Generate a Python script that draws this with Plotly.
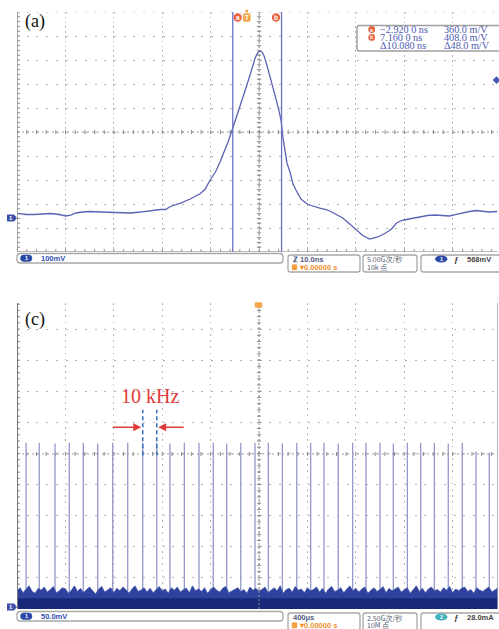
import plotly.graph_objects as go

W, H = 499, 629

# ---------------- panel (a) data ----------------
a_time_ns = [-47.3, -45.6, -44.0, -42.1, -40.5, -38.8, -37.4, -36.4, -35.3, -33.9,
             -32.3, -30.2, -28.1, -26.1, -24.0, -22.0, -19.9, -17.9, -16.8, -15.8,
             -13.7, -11.7, -9.6, -8.6, -7.6, -6.5, -5.5, -4.5, -3.9, -3.04,
             -2.21, -1.39, -0.57, 0.26, 1.08, 1.70, 2.21, 2.62, 3.14, 3.55,
             3.96, 4.37, 4.78, 5.40, 6.02, 6.53, 7.04, 7.46, 7.87, 8.28,
             8.9, 9.52, 10.13, 11.16, 12.6, 14.04, 15.07, 16.72, 18.36, 19.8,
             21.24, 22.68, 23.92, 25.36, 27.0, 28.65, 29.88, 30.9, 31.94, 32.97,
             34.41, 35.65, 37.3, 38.94, 40.59, 41.82, 43.06, 44.5, 45.94, 47.38,
             48.82, 50.05, 51.7]
a_volt_mV = [12.9, 7.9, 7.9, 10.8, 12.1, 7.9, 1.7, 5.8, 14.2, 18.3,
             20.4, 18.3, 16.3, 14.2, 14.2, 18.3, 24.6, 28.8, 28.8, 41.3,
             55.8, 72.5, 95.4, 114.2, 151.7, 185, 228.8, 276.7, 310, 360,
             410, 455.8, 510, 564, 618, 660, 681, 689, 685, 668,
             643, 614, 585, 539, 489, 448, 402, 327, 264, 222,
             185, 135, 110, 72.5, 49.6, 39.2, 35, 26.7, 10, -6.7,
             -31.7, -56.7, -79.6, -94.2, -85.8, -69.2, -52.5, -27.5, -17.1, -12.9,
             -6.7, -0.4, 3.75, 5.8, 3.75, 1.7, 7.9, 15.4, 20.4, 24.6,
             22.5, 18.3, 20.4]
a_cursor_ns = [-2.92, 7.16]
a_cursor_labels = ["a", "b"]
a_trigger_ns = 0.0
a_trigger_mV = 568.0
a_readout_col1 = ["\u22122.920 0 ns", "7.160 0 ns", "\u039410.080 ns"]
a_readout_col2 = ["360.0 m/V", "408.0 m/V", "\u039448.0 m/V"]

# ---------------- panel (c) data ----------------
c_pulse_us = [-1925, -1816, -1686, -1568, -1452, -1333, -1209, -1085, -961, -845,
              -736, -617, -496, -378, -267, -151, -33, 77, 193, 312,
              427, 537, 655, 774, 884, 1000, 1110, 1226, 1336, 1449,
              1564, 1680, 1793, 1903]
c_pulse_top_mV = [264, 264, 263, 264, 264, 263, 264, 264, 264, 264,
                  263, 264, 264, 264, 263, 264, 264, 264, 263, 264,
                  264, 264, 263, 264, 264, 264, 263, 264, 264, 264,
                  263, 264, 250, 248]
c_noise_us = list(range(-2000, 2001, 25))
c_noise_top_mV = [26, 31, 23, 29, 34, 25, 22, 30, 27, 32, 24, 28, 33, 23, 26, 31,
                  29, 22, 27, 34, 25, 30, 23, 28, 32, 26, 21, 29, 33, 24, 27, 31,
                  23, 30, 26, 32, 28, 22, 29, 34, 25, 27, 31, 24, 30, 23, 28, 33,
                  26, 29, 22, 31, 27, 32, 24, 28, 30, 23, 34, 26, 29, 25, 31, 22,
                  28, 32, 27, 24, 30, 33, 23, 26, 29, 31, 25, 28, 22, 32, 27, 30,
                  25, 29, 32, 23, 27, 31, 26, 34, 22, 28, 30, 24, 33, 27, 29, 23,
                  31, 26, 28, 32, 24, 30, 22, 29, 33, 25, 27, 31, 23, 28, 34, 26,
                  30, 24, 29, 32, 22, 27, 31, 25, 28, 33, 23, 30, 26, 29, 32, 24,
                  27, 31, 22, 28, 34, 25, 30, 23, 29, 32, 26, 28, 24, 31, 27, 33,
                  23, 29, 26, 30, 32, 25, 28, 22, 31, 27, 25, 29, 32, 24, 28, 31, 26]
c_marked = [8, 9]
c_label = "10 kHz"

# ---------------- geometry ----------------
L, R = 17, 498
A_T, A_B = 12, 252
C_T, C_B = 303, 609
A_X = [-47.48, 51.86]
A_Y = [-148.3, 851.7]
C_X = [-2000.0, 1975.0]
C_Y = [-3.2, 488.7]


def PX(x):
    return x / W


def PY(y):
    return 1 - y / H


def rrect(x0, y0, x1, y1, r, line='#a0a0a0', fill='white', width=1.2):
    rx, ry = r / W, r / H
    X0, X1, Y0, Y1 = PX(x0), PX(x1), PY(y0), PY(y1)
    path = (f"M{X0+rx},{Y0} L{X1-rx},{Y0} Q{X1},{Y0} {X1},{Y0-ry} "
            f"L{X1},{Y1+ry} Q{X1},{Y1} {X1-rx},{Y1} L{X0+rx},{Y1} "
            f"Q{X0},{Y1} {X0},{Y1+ry} L{X0},{Y0-ry} Q{X0},{Y0} {X0+rx},{Y0} Z")
    return dict(type='path', xref='paper', yref='paper', path=path,
                line=dict(color=line, width=width), fillcolor=fill, layer='above')


def circ(cx, cy, r, color):
    return dict(type='circle', xref='paper', yref='paper',
                x0=PX(cx - r), x1=PX(cx + r), y0=PY(cy + r), y1=PY(cy - r),
                line=dict(width=0), fillcolor=color, layer='above')


def txt(x, y, s, size=8, color='#333', family='Liberation Sans', anchor='left', bold=False):
    if bold:
        s = '<b>' + s + '</b>'
    return dict(x=PX(x), y=PY(y), xref='paper', yref='paper', text=s, showarrow=False,
                xanchor=anchor, yanchor='middle', borderpad=0,
                font=dict(size=size, color=color, family=family))


def tickseg_v(xc, y0, y1, step, half):
    xs, ys = [], []
    y = y0
    while y <= y1 + 1e-9:
        xs += [xc - half, xc + half, None]
        ys += [y, y, None]
        y += step
    return xs, ys


def tickseg_h(yc, x0, x1, step, half):
    xs, ys = [], []
    x = x0
    while x <= x1 + 1e-9:
        xs += [x, x, None]
        ys += [yc - half, yc + half, None]
        x += step
    return xs, ys


fig = go.Figure()
GRID = '#b4b4b4'
TICK = '#8a8a8a'

# ---------- panel (a) graticule ticks ----------
a_cx = 2.52
a_cy = 351.7
xs, ys = tickseg_v(a_cx, A_Y[0], A_Y[1], 20, 0.45)
fig.add_trace(go.Scatter(x=xs, y=ys, mode='lines', line=dict(color=TICK, width=1),
                         xaxis='x', yaxis='y', hoverinfo='skip', showlegend=False))
xs, ys = tickseg_h(a_cy, A_X[0] + 0.02, A_X[1], 2, 8.5)
fig.add_trace(go.Scatter(x=xs, y=ys, mode='lines', line=dict(color=TICK, width=1),
                         xaxis='x', yaxis='y', hoverinfo='skip', showlegend=False))
xs, ys = tickseg_v(A_X[0] + 0.3, A_Y[0], A_Y[1], 20, 0.35)
fig.add_trace(go.Scatter(x=xs, y=ys, mode='lines', line=dict(color=TICK, width=1),
                         xaxis='x', yaxis='y', hoverinfo='skip', showlegend=False))
xs, ys = tickseg_h(A_Y[0] + 6, A_X[0] + 0.02, A_X[1], 2, 6)
fig.add_trace(go.Scatter(x=xs, y=ys, mode='lines', line=dict(color=TICK, width=1),
                         xaxis='x', yaxis='y', hoverinfo='skip', showlegend=False))

# trace (a)
fig.add_trace(go.Scatter(x=a_time_ns, y=a_volt_mV, mode='lines',
                         line=dict(color='#5a62b4', width=1.3),
                         xaxis='x', yaxis='y', hoverinfo='skip', showlegend=False))
# trigger level marker
fig.add_trace(go.Scatter(x=[A_X[1] - 0.3], y=[a_trigger_mV], mode='markers',
                         marker=dict(symbol='diamond', size=6, color='#4a55b0'),
                         xaxis='x', yaxis='y', cliponaxis=False, hoverinfo='skip', showlegend=False))

# ---------- panel (c) graticule ticks ----------
c_cx = 0.0
c_cy = 246.0
xs, ys = tickseg_v(c_cx, C_Y[0], C_Y[1], 10, 16)
fig.add_trace(go.Scatter(x=xs, y=ys, mode='lines', line=dict(color=TICK, width=1),
                         xaxis='x2', yaxis='y2', hoverinfo='skip', showlegend=False))
xs, ys = tickseg_h(c_cy, C_X[0], C_X[1], 80, 3.2)
fig.add_trace(go.Scatter(x=xs, y=ys, mode='lines', line=dict(color=TICK, width=1),
                         xaxis='x2', yaxis='y2', hoverinfo='skip', showlegend=False))
xs, ys = tickseg_v(C_X[0] + 10, C_Y[0], C_Y[1], 10, 12)
fig.add_trace(go.Scatter(x=xs, y=ys, mode='lines', line=dict(color='#707070', width=1),
                         xaxis='x2', yaxis='y2', hoverinfo='skip', showlegend=False))

# pulses
px_, py_ = [], []
for t, h in zip(c_pulse_us, c_pulse_top_mV):
    px_ += [t, t, None]
    py_ += [0, h, None]
fig.add_trace(go.Scatter(x=px_, y=py_, mode='lines', line=dict(color='#9498ca', width=1.3),
                         xaxis='x2', yaxis='y2', hoverinfo='skip', showlegend=False))

# noise floor
fig.add_trace(go.Scatter(x=c_noise_us, y=[-5] * len(c_noise_us), mode='lines',
                         line=dict(width=0, color='#2f439c'),
                         xaxis='x2', yaxis='y2', hoverinfo='skip', showlegend=False))
fig.add_trace(go.Scatter(x=c_noise_us, y=c_noise_top_mV, mode='lines', fill='tonexty',
                         fillcolor='#2e429e', line=dict(width=0.8, color='#4155ac'),
                         xaxis='x2', yaxis='y2', hoverinfo='skip', showlegend=False))
fig.add_trace(go.Scatter(x=C_X, y=[-5, -5], mode='lines', line=dict(width=0, color='#18267a'),
                         xaxis='x2', yaxis='y2', hoverinfo='skip', showlegend=False))
fig.add_trace(go.Scatter(x=C_X, y=[14, 14], mode='lines', fill='tonexty', fillcolor='#1a287a',
                         line=dict(width=0, color='#1a287a'),
                         xaxis='x2', yaxis='y2', hoverinfo='skip', showlegend=False))

shapes = []
ann = []

# ---------- panel (a) decorations ----------
shapes.append(dict(type='line', xref='x', yref='y', x0=a_cx, x1=a_cx, y0=A_Y[0], y1=A_Y[1],
                   line=dict(color='#8a8a8a', width=1, dash='2px,2px')))
shapes.append(dict(type='line', xref='x', yref='y', x0=A_X[0], x1=A_X[1], y0=a_cy, y1=a_cy,
                   line=dict(color='#9a9a9a', width=1, dash='2px,3px')))
shapes.append(dict(type='line', xref='x', yref='y', x0=A_X[0], x1=A_X[1], y0=A_Y[1], y1=A_Y[1],
                   line=dict(color=GRID, width=1, dash='2px,7.7px')))
shapes.append(dict(type='line', xref='x', yref='y', x0=A_X[0], x1=A_X[0], y0=A_Y[0], y1=A_Y[1],
                   line=dict(color='#8c8c8c', width=1.5)))
shapes.append(dict(type='line', xref='x', yref='y', x0=A_X[0], x1=A_X[1], y0=A_Y[0], y1=A_Y[0],
                   line=dict(color='#a8a8a8', width=1.5)))
for t in a_cursor_ns:
    shapes.append(dict(type='line', xref='x', yref='y', x0=t, x1=t, y0=A_Y[0], y1=A_Y[1],
                       line=dict(color='#6a73c6', width=1.3)))
# cursor tags
for cx, lab in zip([237.7, 276.0], a_cursor_labels):
    shapes.append(circ(cx, 17.5, 4.2, '#e8643e'))
    ann.append(txt(cx, 17.5, lab, size=6.5, color='white', anchor='center', bold=True))
shapes.append(rrect(243.3, 13.5, 250.3, 21.5, 1.5, line='#f0a040', fill='#f4a449', width=0.5))
ann.append(txt(246.8, 17.5, 'T', size=6.5, color='white', anchor='center', bold=True))
shapes.append(circ(246.8, 11.0, 1.6, '#f4a449'))
# ground marker
shapes.append(dict(type='path', xref='paper', yref='paper',
                   path=f"M{PX(7)},{PY(214.5)} L{PX(14)},{PY(214.5)} L{PX(17)},{PY(218)} "
                        f"L{PX(14)},{PY(221.5)} L{PX(7)},{PY(221.5)} Z",
                   fillcolor='#3d4fa8', line=dict(width=0), layer='above'))
ann.append(txt(11, 218, '1', size=6, color='white', anchor='center', bold=True))
# readout box
shapes.append(rrect(357, 25.5, 503, 51, 2.5, line='#a0a0a0', fill='white', width=1.5))
for i, (c1, c2) in enumerate(zip(a_readout_col1, a_readout_col2)):
    yy = 29.5 + 7.9 * i
    if i < 2:
        shapes.append(circ(371.7, yy, 3.4, '#e8643e'))
        ann.append(txt(371.7, yy, a_cursor_labels[i], size=5, color='white', anchor='center', bold=True))
    ann.append(txt(378.5, yy, c1, size=10.2, color='#4a59b0', family='Liberation Serif'))
    ann.append(txt(442.5, yy, c2, size=10.2, color='#4a59b0', family='Liberation Serif'))
ann.append(txt(24, 22, '(a)', size=18, color='#111', family='Liberation Serif'))

# ---------- panel (c) decorations ----------
shapes.append(dict(type='line', xref='x2', yref='y2', x0=c_cx, x1=c_cx, y0=C_Y[0], y1=C_Y[1],
                   line=dict(color='#8a8a8a', width=1, dash='2px,2px')))
shapes.append(dict(type='line', xref='x2', yref='y2', x0=C_X[0], x1=C_X[1], y0=c_cy, y1=c_cy,
                   line=dict(color='#9a9a9a', width=1, dash='2px,3px')))
shapes.append(dict(type='line', xref='x2', yref='y2', x0=C_X[0], x1=C_X[0], y0=C_Y[0], y1=C_Y[1],
                   line=dict(color='#777777', width=2)))
shapes.append(dict(type='line', xref='x2', yref='y2', x0=C_X[1], x1=C_X[1], y0=C_Y[0], y1=C_Y[1],
                   line=dict(color='#a0a0a0', width=1.5)))
shapes.append(rrect(255, 302.5, 262, 307.5, 1.2, line='#f0a040', fill='#f4a449', width=0.5))
# dashed marks for 10 kHz
for idx in c_marked:
    t = c_pulse_us[idx]
    shapes.append(dict(type='line', xref='x2', yref='y2', x0=t, x1=t, y0=244, y1=317,
                       line=dict(color='#3a6fc4', width=1.6, dash='4px,3px')))
t1, t2 = c_pulse_us[c_marked[0]], c_pulse_us[c_marked[1]]
ann.append(dict(x=t1 - 12, y=289, ax=t1 - 260, ay=289, xref='x2', yref='y2', axref='x2', ayref='y2',
                showarrow=True, arrowhead=2, arrowsize=1, arrowwidth=1.6, arrowcolor='#e03c3c', text=''))
ann.append(dict(x=t2 + 12, y=289, ax=t2 + 235, ay=289, xref='x2', yref='y2', axref='x2', ayref='y2',
                showarrow=True, arrowhead=2, arrowsize=1, arrowwidth=1.6, arrowcolor='#e03c3c', text=''))
ann.append(dict(x=(t1 + t2) / 2 + 5, y=340, xref='x2', yref='y2', text=c_label, showarrow=False,
                xanchor='center', yanchor='middle',
                font=dict(size=20, color='#e03c3c', family='Liberation Serif')))
shapes.append(dict(type='path', xref='paper', yref='paper',
                   path=f"M{PX(7)},{PY(603.5)} L{PX(14)},{PY(603.5)} L{PX(17)},{PY(607)} "
                        f"L{PX(14)},{PY(610.5)} L{PX(7)},{PY(610.5)} Z",
                   fillcolor='#3d4fa8', line=dict(width=0), layer='above'))
ann.append(txt(11, 607, '1', size=6, color='white', anchor='center', bold=True))
ann.append(txt(24, 319, '(c)', size=18, color='#111', family='Liberation Serif'))


# ---------- status bars ----------
def status(y0, volts, tb, rate, pts, ch, ch_color, trig, show_z):
    shapes.append(rrect(17, y0 - 1.5, 283, y0 + 8, 3, line='#a8a8a8', fill='white', width=1.3))
    shapes.append(rrect(20.5, y0, 32, y0 + 6.5, 3.2, line='#2b48a8', fill='#2b48a8', width=0.5))
    ann.append(txt(26.2, y0 + 3.3, '1', size=5.5, color='white', anchor='center', bold=True))
    ann.append(txt(40, y0 + 3.3, volts, size=7.5, color='#3050b0', bold=True))
    shapes.append(rrect(288, y0, 360, y0 + 17, 2.5, line='#a8a8a8', fill='white', width=1.3))
    ann.append(txt(292, y0 + 4.5, (('\u2124 ' if show_z else '') + tb), size=7.5, color='#505a80', bold=True))
    shapes.append(rrect(292, y0 + 9.5, 297, y0 + 15, 0.8, line='#f4a040', fill='#f4a040', width=0.3))
    ann.append(txt(297.5, y0 + 12.3, '\u25be0.00000 s', size=7.5, color='#f0902c', bold=True))
    shapes.append(rrect(363, y0, 417, y0 + 17, 2.5, line='#a8a8a8', fill='white', width=1.3))
    ann.append(txt(365.5, y0 + 4.5, rate, size=7, color='#555a70', family='Noto Sans CJK SC'))
    ann.append(txt(365.5, y0 + 12.3, pts, size=7, color='#555a70', family='Noto Sans CJK SC'))
    shapes.append(rrect(421, y0, 505, y0 + 17, 2.5, line='#a8a8a8', fill='white', width=1.3))
    shapes.append(dict(type='circle', xref='paper', yref='paper', x0=PX(435), x1=PX(447.5),
                       y0=PY(y0 + 7.5), y1=PY(y0 + 0.5), fillcolor=ch_color,
                       line=dict(width=0), layer='above'))
    ann.append(txt(441.2, y0 + 4, ch, size=5.5, color='white', anchor='center', bold=True))
    ann.append(txt(453, y0 + 4, '\u0192', size=8, color='#333', bold=True))
    ann.append(txt(466, y0 + 4, trig, size=7.5, color='#444', bold=True))


status(255, '100mV', '10.0ns', '5.00G\u6b21/\u79d2', '10k \u70b9', '1', '#2b48a8', '568mV', True)
status(613, '50.0mV', '400\u03bcs', '2.50G\u6b21/\u79d2', '10M \u70b9', '2', '#3db2bb', '28.0mA', False)

ax_common = dict(showticklabels=False, ticks='', zeroline=False, showline=False, fixedrange=True)
fig.update_layout(
    width=W, height=H, margin=dict(l=0, r=0, t=0, b=0),
    paper_bgcolor='white', plot_bgcolor='white', showlegend=False,
    xaxis=dict(domain=[PX(L), PX(R)], range=A_X, anchor='y', showgrid=True, gridcolor=GRID,
               griddash='1.5px,3.3px', gridwidth=1, tick0=a_cx, dtick=10, **ax_common),
    yaxis=dict(domain=[PY(A_B), PY(A_T)], range=A_Y, anchor='x', showgrid=True, gridcolor=GRID,
               griddash='2px,7.7px', gridwidth=1, tick0=-48.3, dtick=100, **ax_common),
    xaxis2=dict(domain=[PX(L), PX(R)], range=C_X, anchor='y2', showgrid=True, gridcolor=GRID,
                griddash='1.5px,4.7px', gridwidth=1, tick0=0, dtick=400, **ax_common),
    yaxis2=dict(domain=[PY(C_B), PY(C_T)], range=C_Y, anchor='x2', showgrid=True, gridcolor=GRID,
                griddash='2px,7.7px', gridwidth=1, tick0=-3.2, dtick=50, **ax_common),
    shapes=shapes, annotations=ann,
)
fig.write_html("out.html", config={'displayModeBar': False},
               post_script="document.body.style.margin='0px';document.body.style.overflow='hidden';")
